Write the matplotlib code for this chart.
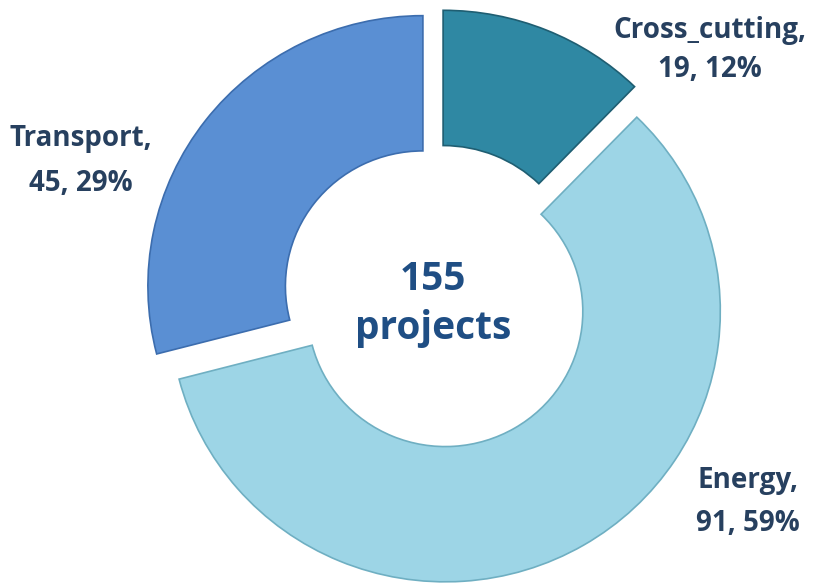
import matplotlib
matplotlib.use("Agg")
import matplotlib.pyplot as plt

categories = ["Cross_cutting", "Energy", "Transport"]
counts = [19, 91, 45]
percents = [12, 59, 29]
total_label = "155\nprojects"

colors = ["#2F88A3", "#9DD5E6", "#5A8FD3"]
edges = ["#1F5E72", "#6FAFC2", "#3C6DAE"]

fig = plt.figure(figsize=(8.19, 5.86), dpi=100)
ax = fig.add_axes([0, 0, 1, 1])
Rx, Ry = 275.0, 270.5
cx, cy = 436.6, 296.6

explode = [0.063, 0.063, 0.063]
wedges, _ = ax.pie(counts, startangle=90, counterclock=False, radius=1.0,
                   colors=colors, explode=explode,
                   wedgeprops=dict(width=0.5, linewidth=1.2))
for w, e in zip(wedges, edges):
    w.set_edgecolor(e)

# pixel mapping: data unit = 1 radius
ax.set_aspect("auto")
ax.set_xlim((0 - cx) / Rx, (819 - cx) / Rx)
ax.set_ylim((cy - 586) / Ry, (cy - 0) / Ry)
ax.axis("off")

label_pos = {"Cross_cutting": (710, 50, 1.45),
             "Energy": (748, 502, 1.6),
             "Transport": (81, 161, 1.7)}
for cat, n, p in zip(categories, counts, percents):
    px, py, ls = label_pos[cat]
    ax.text((px - cx) / Rx, (cy - py) / Ry, f"{cat},\n{n}, {p}%",
            ha="center", va="center", fontsize=20, fontweight="bold",
            family="Open Sans", color="#27405F", linespacing=ls)

ax.text((433 - cx) / Rx, (cy - 304) / Ry, total_label, ha="center", va="center",
        fontsize=28, fontweight="bold", family="Open Sans", color="#1F4E84",
        linespacing=1.35)

fig.savefig("out.png", dpi=100)
